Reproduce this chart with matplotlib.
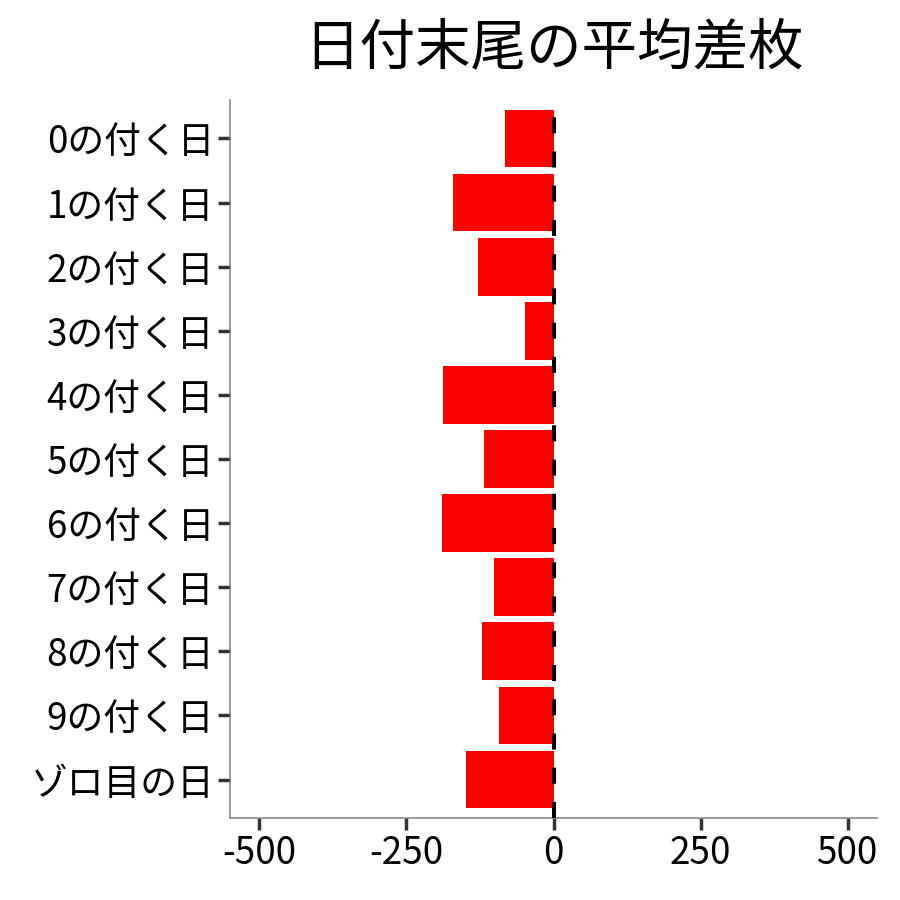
import matplotlib
matplotlib.use("Agg")
import matplotlib.pyplot as plt

plt.rcParams['font.family'] = ['Noto Sans CJK JP', 'DejaVu Sans']

# DATA
labels = ["0の付く日", "1の付く日", "2の付く日", "3の付く日", "4の付く日",
          "5の付く日", "6の付く日", "7の付く日", "8の付く日", "9の付く日", "ゾロ目の日"]
avg_diff = [-83, -171, -129, -49, -188, -119, -190, -102, -122, -92, -149]
x_ticks = [-500, -250, 0, 250, 500]
title = "日付末尾の平均差枚"

# PLOT
fig = plt.figure(figsize=(9, 9), dpi=100)
ax = fig.add_axes([0.2556, 0.0911, 0.7189, 0.7978])

ypos = list(range(len(labels)))
ax.barh(ypos, avg_diff, height=0.9, color="#ff0000", zorder=2)
ax.axvline(0, color="black", linewidth=2.9, linestyle=(0, (4, 4.5)), zorder=3)

ax.set_xlim(-550, 550)
ax.set_ylim(len(labels) - 0.4, -0.6)
ax.set_xticks(x_ticks)
ax.set_xticklabels([str(v) for v in x_ticks])
ax.set_yticks(ypos)
ax.set_yticklabels(labels)

for side in ["top", "right"]:
    ax.spines[side].set_visible(False)
for side in ["left", "bottom"]:
    ax.spines[side].set_color("#808080")
    ax.spines[side].set_linewidth(1.1)

ax.tick_params(axis="both", colors="#333333", width=2.5, length=8.5,
               labelsize=26.5, labelcolor="black", pad=3)

ax.set_title(title, fontsize=40, pad=26)

fig.savefig("out.png", dpi=100, facecolor="white")
